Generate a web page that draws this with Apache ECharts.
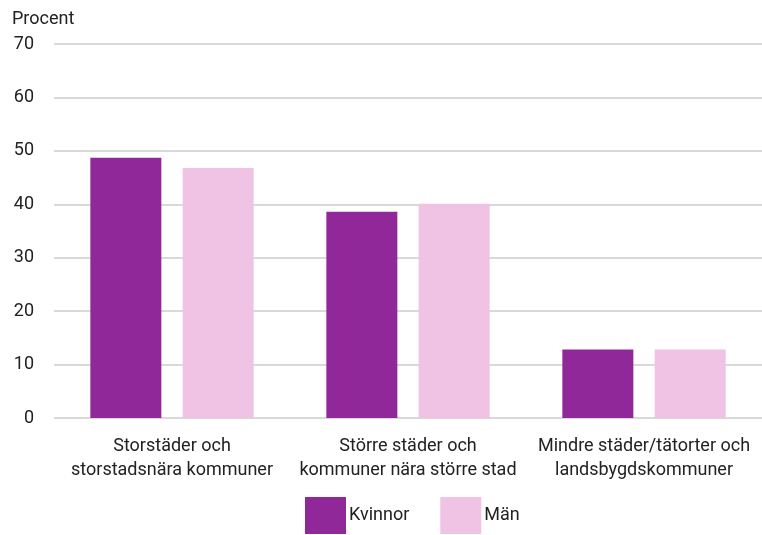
<!DOCTYPE html>
<html>
<head>
<meta charset="utf-8">
<script src="https://cdn.jsdelivr.net/npm/echarts@6/dist/echarts.min.js"></script>
<style>
  html, body { margin: 0; padding: 0; background: #fff; }
  #chart { width: 762px; height: 535px; }
</style>
</head>
<body>
<div id="chart"></div>
<script>
// data
var categories = [
  "Storstäder och\nstorstadsnära kommuner",
  "Större städer och\nkommuner nära större stad",
  "Mindre städer/tätorter och\nlandsbygdskommuner"
];
var kvinnor = [48.7, 38.6, 12.8];
var man = [46.8, 40.1, 12.8];
var seriesNames = ["Kvinnor", "Män"];

var chart = echarts.init(document.getElementById("chart"));
chart.setOption({
  animation: false,
  textStyle: { fontFamily: "Roboto", color: "#222" },
  title: {
    text: "Procent",
    left: 7,
    top: 5,
    textStyle: { fontSize: 18, fontWeight: "normal", color: "#222", fontFamily: "Roboto" }
  },
  legend: {
    data: seriesNames,
    left: 300,
    top: 492,
    icon: "rect",
    itemWidth: 41,
    itemHeight: 37,
    itemGap: 31,
    textStyle: { fontSize: 18, color: "#222", padding: [0, 0, 0, -2] }
  },
  grid: { left: 54, right: 0, top: 44, bottom: 117, containLabel: false },
  xAxis: {
    type: "category",
    data: categories,
    axisLine: { show: false },
    axisTick: { show: false },
    axisLabel: { fontSize: 18, color: "#222", lineHeight: 24, margin: 16, interval: 0 }
  },
  yAxis: {
    type: "value",
    min: 0,
    max: 70,
    interval: 10,
    axisLabel: { fontSize: 18, color: "#222", margin: 20 },
    axisLine: { show: false },
    axisTick: { show: false },
    splitLine: { lineStyle: { color: "#d9d9d9", width: 2 } }
  },
  series: [
    {
      name: seriesNames[0],
      type: "bar",
      data: kvinnor,
      barWidth: 71,
      barGap: "30%",
      itemStyle: { color: "#912899" }
    },
    {
      name: seriesNames[1],
      type: "bar",
      data: man,
      barWidth: 71,
      itemStyle: { color: "#f0c3e4" }
    }
  ]
});
</script>
</body>
</html>
